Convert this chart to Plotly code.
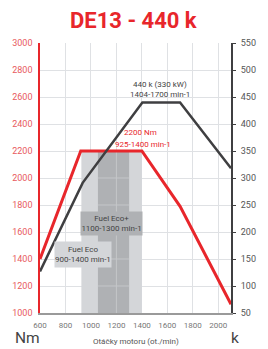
import plotly.graph_objects as go

# ---- data ----
rpm_torque = [600, 920, 1400, 1700, 2100]
torque_nm = [1400, 2200, 2200, 1790, 1065]

rpm_power = [600, 935, 1404, 1700, 2100]
power_k = [127, 291, 440, 440, 318]

eco_band = [925, 1400]
eco_plus_band = [1055, 1300]
band_top = 2200

x_ticks = [600, 800, 1000, 1200, 1400, 1600, 1800, 2000]
y_left_ticks = [1000, 1200, 1400, 1600, 1800, 2000, 2200, 2400, 2600, 2800, 3000]
y_right_ticks = [50, 100, 150, 200, 250, 300, 350, 400, 450, 500, 550]

RED = "#e8262b"
DARK = "#3f3f41"
GRID = "#dfe1e4"
LIGHT_BAND = "#d4d6d9"
DARK_BAND = "#afb1b4"
FONT = "Roboto"

fig = go.Figure()

fig.add_trace(go.Scatter(x=rpm_power, y=power_k, mode="lines", yaxis="y2",
                         line=dict(color=DARK, width=2.5), hoverinfo="skip", showlegend=False))
fig.add_trace(go.Scatter(x=rpm_torque, y=torque_nm, mode="lines", yaxis="y",
                         line=dict(color=RED, width=3), hoverinfo="skip", showlegend=False))

shapes = [
    dict(type="rect", xref="x", yref="y", x0=eco_band[0], x1=eco_band[1], y0=1000, y1=band_top,
         fillcolor=LIGHT_BAND, line=dict(width=0), layer="between"),
    dict(type="rect", xref="x", yref="y", x0=eco_plus_band[0], x1=eco_plus_band[1], y0=1000, y1=band_top,
         fillcolor=DARK_BAND, line=dict(width=0), layer="between"),
]
# grid lines showing through the darker band
for xv in x_ticks:
    if eco_plus_band[0] < xv < eco_plus_band[1]:
        shapes.append(dict(type="line", xref="x", yref="y", x0=xv, x1=xv, y0=1000, y1=band_top,
                           line=dict(color="#c4c6c9", width=1), layer="between"))
for yv in y_left_ticks:
    if 1000 < yv < band_top:
        shapes.append(dict(type="line", xref="x", yref="y", x0=eco_plus_band[0], x1=eco_plus_band[1],
                           y0=yv, y1=yv, line=dict(color="#c4c6c9", width=1), layer="between"))

annotations = [
    dict(text="<b>DE13 - 440 k</b>", xref="paper", yref="paper", x=0.49, y=1.0, yshift=23,
         showarrow=False, font=dict(family=FONT, size=22, color=RED), xanchor="center", yanchor="middle"),
    dict(text="440 k (330 kW)", xref="x", yref="y2", x=1543, y=474, showarrow=False,
         font=dict(family=FONT, size=8, color="#444444")),
    dict(text="1404-1700 min-1", xref="x", yref="y2", x=1543, y=455, showarrow=False,
         font=dict(family=FONT, size=8, color="#444444")),
    dict(text="2200 Nm", xref="x", yref="y", x=1391, y=2338, showarrow=False,
         font=dict(family=FONT, size=8, color=RED)),
    dict(text="925-1400 min-1", xref="x", yref="y", x=1406, y=2247, showarrow=False,
         font=dict(family=FONT, size=8, color=RED)),
    dict(text="Fuel Eco+<br>1100-1300 min-1", xref="x", yref="y", x=1164, y=1664, showarrow=False,
         bgcolor=DARK_BAND, width=61, height=23, borderpad=0,
         font=dict(family=FONT, size=8, color="#444444")),
    dict(text="Fuel Eco<br>900-1400 min-1", xref="x", yref="y", x=940, y=1436, showarrow=False,
         bgcolor=LIGHT_BAND, width=56, height=25, borderpad=0,
         font=dict(family=FONT, size=8, color="#444444")),
    dict(text="Nm", xref="paper", yref="paper", x=-0.066, y=0, yshift=-35.5, showarrow=False,
         font=dict(family=FONT, size=15.5, color="#444444"), xanchor="center", yanchor="bottom"),
    dict(text="k", xref="paper", yref="paper", x=1.02, y=0, yshift=-35.5, showarrow=False,
         font=dict(family=FONT, size=15.5, color="#444444"), xanchor="center", yanchor="bottom"),
    dict(text="Otáčky motoru (ot./min)", xref="paper", yref="paper", x=0.5, y=0, yshift=-28,
         showarrow=False, font=dict(family=FONT, size=8, color="#555555"), xanchor="center", yanchor="middle"),
]

fig.update_layout(
    width=268, height=349,
    margin=dict(l=39, r=20, t=43, b=36),
    paper_bgcolor="white", plot_bgcolor="white",
    showlegend=False,
    shapes=shapes,
    annotations=annotations,
    xaxis=dict(range=[600, 2100], tickvals=x_ticks, showgrid=True, gridcolor=GRID, gridwidth=1,
               showline=True, linecolor="#9a9a9a", linewidth=1.5, ticks="", zeroline=False,
               tickfont=dict(family=FONT, size=8, color="#777777"), ticklabelstandoff=4, fixedrange=True),
    yaxis=dict(range=[1000, 3000], tickvals=y_left_ticks, showgrid=True, gridcolor=GRID, gridwidth=1,
               showline=True, linecolor=RED, linewidth=1.5, ticks="", zeroline=False,
               tickfont=dict(family=FONT, size=9, color="#e85a5e"), ticklabelstandoff=4, fixedrange=True),
    yaxis2=dict(range=[50, 550], tickvals=y_right_ticks, overlaying="y", side="right", showgrid=False,
                showline=True, linecolor=DARK, linewidth=2, ticks="outside", ticklen=3, tickcolor=DARK,
                tickwidth=1, zeroline=False, tickfont=dict(family=FONT, size=9, color="#555555"),
                ticklabelstandoff=3, fixedrange=True),
)

fig.write_html(
    "out.html",
    config={"displayModeBar": False},
    post_script="document.body.style.margin='0';document.body.style.padding='0';"
                "document.body.style.overflow='hidden';",
)
